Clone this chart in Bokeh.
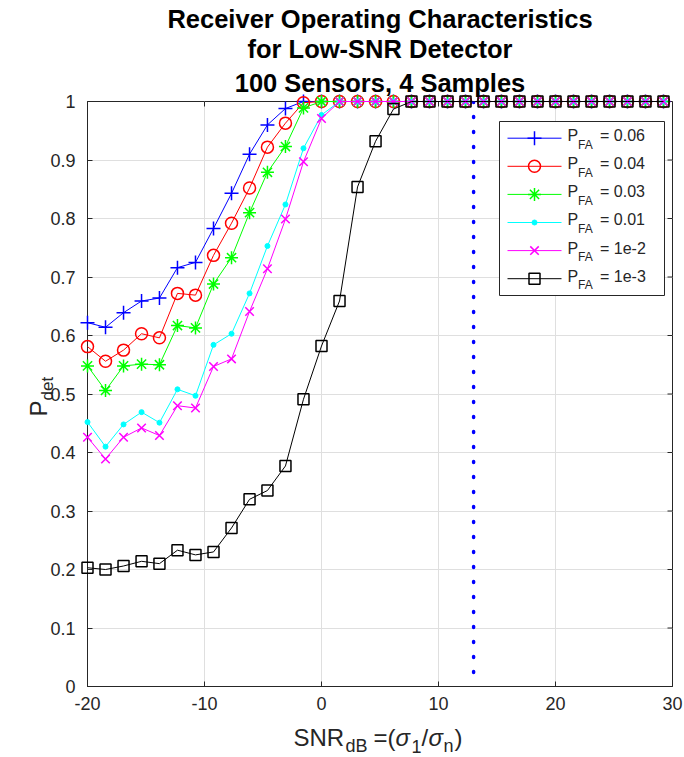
import math

from bokeh.core.properties import value
from bokeh.embed import file_html
from bokeh.models import FixedTicker, NumeralTickFormatter, Range1d, Span, Title
from bokeh.plotting import figure
from bokeh.resources import INLINE

# ---------------------------------------------------------------- data
snr_db = [-20.0, -18.46, -16.92, -15.38, -13.85, -12.31, -10.77, -9.23, -7.69, -6.15,
          -4.62, -3.08, -1.54, 0.0, 1.54, 3.08, 4.62, 6.15, 7.69, 9.23,
          10.77, 12.31, 13.85, 15.38, 16.92, 18.46, 20.0, 21.54, 23.08, 24.62,
          26.15, 27.69, 29.23]

pdet_pfa_006 = [0.622, 0.614, 0.639, 0.659, 0.664, 0.716, 0.725, 0.783, 0.843, 0.910,
                0.960, 0.988, 1.000, 1.0, 1.0, 1.0, 1.0, 1.0, 1.0, 1.0,
                1.0, 1.0, 1.0, 1.0, 1.0, 1.0, 1.0, 1.0, 1.0, 1.0,
                1.0, 1.0, 1.0]
pdet_pfa_004 = [0.581, 0.556, 0.575, 0.603, 0.596, 0.672, 0.669, 0.737, 0.792, 0.852,
                0.922, 0.963, 0.998, 1.0, 1.0, 1.0, 1.0, 1.0, 1.0, 1.0,
                1.0, 1.0, 1.0, 1.0, 1.0, 1.0, 1.0, 1.0, 1.0, 1.0,
                1.0, 1.0, 1.0]
pdet_pfa_003 = [0.548, 0.506, 0.548, 0.551, 0.550, 0.617, 0.613, 0.688, 0.733, 0.810,
                0.879, 0.923, 0.989, 1.0, 1.0, 1.0, 1.0, 1.0, 1.0, 1.0,
                1.0, 1.0, 1.0, 1.0, 1.0, 1.0, 1.0, 1.0, 1.0, 1.0,
                1.0, 1.0, 1.0]
pdet_pfa_001 = [0.452, 0.410, 0.448, 0.469, 0.451, 0.508, 0.497, 0.584, 0.603, 0.672,
                0.753, 0.824, 0.920, 0.977, 1.0, 1.0, 1.0, 1.0, 1.0, 1.0,
                1.0, 1.0, 1.0, 1.0, 1.0, 1.0, 1.0, 1.0, 1.0, 1.0,
                1.0, 1.0, 1.0]
pdet_pfa_1em2 = [0.426, 0.389, 0.426, 0.442, 0.429, 0.480, 0.476, 0.547, 0.560, 0.641,
                 0.714, 0.799, 0.897, 0.971, 1.0, 1.0, 1.0, 1.0, 1.0, 1.0,
                 1.0, 1.0, 1.0, 1.0, 1.0, 1.0, 1.0, 1.0, 1.0, 1.0,
                 1.0, 1.0, 1.0]
pdet_pfa_1em3 = [0.203, 0.200, 0.206, 0.214, 0.210, 0.233, 0.225, 0.230, 0.271, 0.320,
                 0.335, 0.377, 0.491, 0.582, 0.659, 0.854, 0.932, 0.987, 1.0, 1.0,
                 1.0, 1.0, 1.0, 1.0, 1.0, 1.0, 1.0, 1.0, 1.0, 1.0,
                 1.0, 1.0, 1.0]

pfa_labels = ["0.06", "0.04", "0.03", "0.01", "1e-2", "1e-3"]
threshold_snr_db = 13

x_ticks = [-20, -10, 0, 10, 20, 30]
y_ticks = [0, 0.1, 0.2, 0.3, 0.4, 0.5, 0.6, 0.7, 0.8, 0.9, 1.0]

title_lines = ["Receiver Operating Characteristics",
               "for Low-SNR Detector",
               "100 Sensors, 4 Samples"]

# ---------------------------------------------------------------- style
FONT = "Liberation Sans"
INK = "#262626"
GRID = "#dfdfdf"
FRAME_W = 585
FRAME_H = 585
TICK_PX = 5
MID = 0.3465          # height of the text-box middle above the baseline, in em

series = [
    (pdet_pfa_006, "#0000ff", "cross", 14, 1.5),
    (pdet_pfa_004, "#ff0000", "circle", 12, 1.5),
    (pdet_pfa_003, "#00ff00", "asterisk", 13, 1.5),
    (pdet_pfa_001, "#00ffff", "dot_fill", 5, 1.0),
    (pdet_pfa_1em2, "#ff00ff", "x", 12, 1.5),
    (pdet_pfa_1em3, "#000000", "square", 11, 1.5),
]

x_lo, x_hi = x_ticks[0], x_ticks[-1]
y_lo, y_hi = y_ticks[0], y_ticks[-1]

# ---------------------------------------------------------------- figure
p = figure(frame_width=FRAME_W, frame_height=FRAME_H,
           min_border_left=87, min_border_right=12,
           min_border_top=101, min_border_bottom=71,
           x_range=Range1d(x_lo, x_hi), y_range=Range1d(y_lo, y_hi),
           title=None, output_backend="svg", toolbar_location=None,
           background_fill_color="white", border_fill_color="white")

# pixel coordinates of the plotting frame, used for the legend and labels
p.extra_x_ranges = {"px": Range1d(0, FRAME_W)}
p.extra_y_ranges = {"py": Range1d(0, FRAME_H)}

for i, line in enumerate(reversed(title_lines)):
    p.add_layout(Title(text=line, align="center", text_font=FONT,
                       text_font_size="25.5px", text_font_style="bold",
                       text_color="black", standoff=9 if i == 0 else 0), "above")

p.outline_line_color = INK
p.outline_line_width = 1

p.xaxis.ticker = FixedTicker(ticks=x_ticks)
p.yaxis.ticker = FixedTicker(ticks=y_ticks)
p.xaxis.formatter = NumeralTickFormatter(format="0")
p.yaxis.formatter = NumeralTickFormatter(format="0.[0]")
for ax in (p.xaxis, p.yaxis):
    ax.axis_line_color = INK
    ax.major_tick_line_color = INK
    ax.major_tick_in = TICK_PX
    ax.major_tick_out = 0
    ax.minor_tick_line_color = None
    ax.major_label_text_font = FONT
    ax.major_label_text_font_size = "18px"
    ax.major_label_text_color = INK
p.xaxis.major_label_standoff = 10
p.yaxis.major_label_standoff = 12

p.xgrid.ticker = FixedTicker(ticks=x_ticks)
p.ygrid.ticker = FixedTicker(ticks=y_ticks)
p.grid.grid_line_color = GRID
p.grid.grid_line_width = 1

# inward ticks along the top and right edges of the box
dx_tick = TICK_PX * (x_hi - x_lo) / FRAME_W
dy_tick = TICK_PX * (y_hi - y_lo) / FRAME_H
p.segment(x0=x_ticks, x1=x_ticks, y0=[y_hi] * len(x_ticks), y1=[y_hi - dy_tick] * len(x_ticks),
          line_color=INK, line_width=1)
p.segment(x0=[x_hi] * len(y_ticks), x1=[x_hi - dx_tick] * len(y_ticks), y0=y_ticks, y1=y_ticks,
          line_color=INK, line_width=1)

# ---------------------------------------------------------------- curves
for vals, color, marker, size, mlw in series:
    p.line(snr_db, vals, line_color=color, line_width=1, level="annotation")
    fill = color if marker == "dot_fill" else None
    p.scatter(snr_db, vals, marker="circle" if marker == "dot_fill" else marker,
              size=size, line_color=color, fill_color=fill, line_width=mlw,
              level="annotation")

p.add_layout(Span(location=threshold_snr_db, dimension="height",
                  line_color="#0000ff", line_width=3.5, line_dash="1 14",
                  line_cap="round"))

# ---------------------------------------------------------------- text helper
def put(text, x, y, size, color=INK, rotated=False, style="normal"):
    """Place text with its baseline at (x, y) in frame pixels."""
    shift = MID * size
    if rotated:
        ax, ay, angle = x - shift, y, math.pi / 2
    else:
        ax, ay, angle = x, y + shift, 0.0
    p.text(x=[ax], y=[ay], text=[text], angle=angle,
           x_range_name="px", y_range_name="py",
           text_font=value(FONT), text_font_size=value(f"{size}px"),
           text_font_style=style, text_color=color,
           text_baseline="middle", text_align="left", level="annotation")


# ---------------------------------------------------------------- legend
LEG_L, LEG_R, LEG_B, LEG_T = 412, 577, 391, 565
ROW0, ROW_STEP = 548.3, 28.1
p.quad(left=[LEG_L], right=[LEG_R], bottom=[LEG_B], top=[LEG_T],
       x_range_name="px", y_range_name="py",
       fill_color="white", line_color=INK, line_width=1)

for i, ((vals, color, marker, size, mlw), lab) in enumerate(zip(series, pfa_labels)):
    ry = ROW0 - i * ROW_STEP
    p.line([420, 474], [ry, ry], x_range_name="px", y_range_name="py",
           line_color=color, line_width=1)
    fill = color if marker == "dot_fill" else None
    p.scatter([447], [ry], x_range_name="px", y_range_name="py",
              marker="circle" if marker == "dot_fill" else marker,
              size=size, line_color=color, fill_color=fill, line_width=mlw)
    put("P", 480, ry - 3, 16)
    put("FA", 490.5, ry - 10.6, 12)
    put("= " + lab, 512.5, ry - 3, 16)

# ---------------------------------------------------------------- axis labels
# y label: P_det, rotated
put("P", -41, 270, 24, rotated=True)
put("det", -34, 286, 17, rotated=True)

# x label: SNR_dB=(sigma_1/sigma_n)
XL_BASE, XL_SUB = -59, -66
put("SNR", 206, XL_BASE, 24)
put("dB", 258, XL_SUB, 18)
put("=(", 286, XL_BASE, 24)
put("\u03c3", 308, XL_BASE, 24, style="italic")
put("1", 324, XL_SUB, 18)
put("/", 334, XL_BASE, 24)
put("\u03c3", 341, XL_BASE, 24, style="italic")
put("n", 356, XL_SUB, 18)
put(")", 367, XL_BASE, 24)

open("out.html", "w").write(file_html(p, INLINE))
